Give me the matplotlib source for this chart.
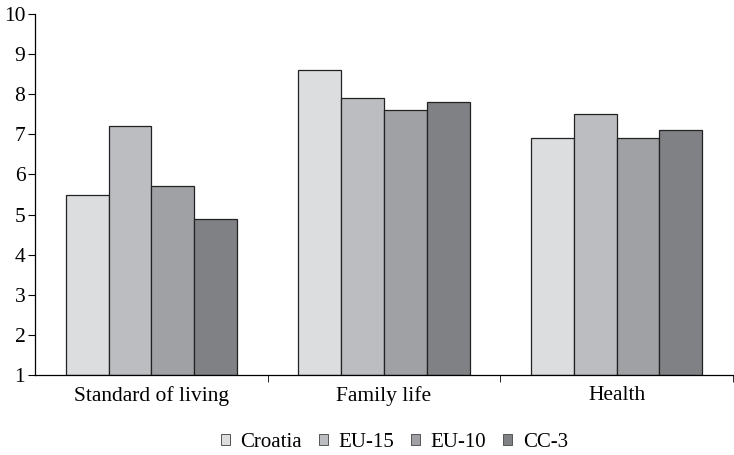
import numpy as np
import matplotlib.pyplot as plt
from matplotlib.ticker import FixedLocator

categories = ["Standard of living", "Family life", "Health"]
series = ["Croatia", "EU-15", "EU-10", "CC-3"]
croatia = [5.5, 8.6, 6.9]
eu15 = [7.2, 7.9, 7.5]
eu10 = [5.7, 7.6, 6.9]
cc3 = [4.9, 7.8, 7.1]
colors = ["#dcdddf", "#bcbdc0", "#a0a1a5", "#808185"]

plt.rcParams['font.family'] = ['Liberation Serif', 'DejaVu Serif']

fig = plt.figure(figsize=(7.34, 4.55), dpi=100)
ax = fig.add_axes([35 / 734, 1 - 375 / 455, 698 / 734, 361 / 455])

x = np.arange(len(categories))
w = 0.184
for i, (name, vals) in enumerate(zip(series, [croatia, eu15, eu10, cc3])):
    heights = np.array(vals) - 1
    ax.bar(x + (i - 1.5) * w, heights, w, bottom=1, color=colors[i],
           edgecolor="#222222", linewidth=0.9, label=name)

ax.set_xlim(-0.5, 2.5)
ax.set_ylim(1, 10)
ax.set_yticks(range(1, 11))
ax.set_xticks(x)
ax.set_xticklabels(categories)
ax.xaxis.set_minor_locator(FixedLocator([0.5, 1.5, 2.5]))
ax.tick_params(axis="x", which="major", length=0, pad=8, labelsize=15.5)
ax.tick_params(axis="x", which="minor", length=5, direction="out")
ax.tick_params(axis="y", length=5, direction="out", labelsize=15.5, pad=2)

for s in ["top", "right"]:
    ax.spines[s].set_visible(False)
ax.spines["left"].set_linewidth(0.9)
ax.spines["bottom"].set_linewidth(0.9)

leg = fig.legend(loc="lower center", bbox_to_anchor=(0.537, -0.035), ncol=4, frameon=False,
                 fontsize=15, handlelength=0.45, handleheight=0.45, handletextpad=0.5,
                 columnspacing=0.8)
for p in leg.get_patches():
    p.set_edgecolor("#555555")
    p.set_linewidth(0.7)

fig.savefig("out.png", dpi=100)
